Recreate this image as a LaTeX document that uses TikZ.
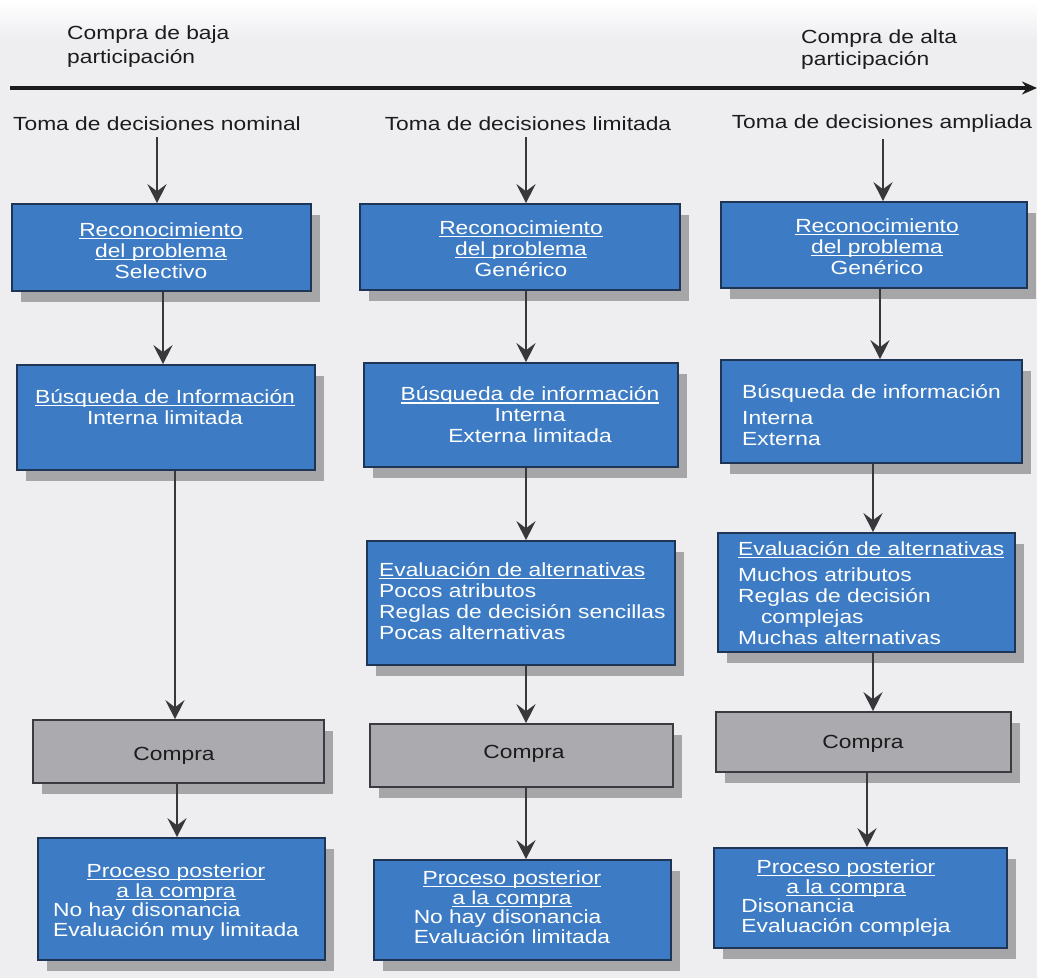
\documentclass[tikz,border=0pt]{standalone}
\usepackage{fontspec}
\setmainfont{Liberation Sans}[FakeStretch=1.2]
\usetikzlibrary{arrows.meta,shadows}
\definecolor{boxblue}{HTML}{3D7CC4}
\definecolor{boxedge}{HTML}{1E3556}
\definecolor{boxgray}{HTML}{AAAAAF}
\definecolor{grayedge}{HTML}{3A3A40}
\definecolor{bg}{HTML}{EEEEF1}
\definecolor{ink}{HTML}{1C1C1C}
\definecolor{arrowc}{HTML}{38383C}
\newcommand\ulx[1]{\setbox0\hbox{#1}\rlap{\rule[-2.6pt]{\wd0}{1.1pt}}\box0}
\newcommand\ctitle[1]{\multicolumn{1}{@{}c@{}}{\ulx{#1}}}
\begin{document}
\begin{tikzpicture}[x=1pt,y=-1pt,
  every node/.style={font=\fontsize{19}{21}\selectfont},
  shadowed/.style={drop shadow={shadow xshift=9pt, shadow yshift=-11pt, opacity=0.3, fill=black}},
  bluebox/.style={shadowed, draw=boxedge, line width=1.6pt, fill=boxblue, inner sep=0pt},
  graybox/.style={shadowed, draw=grayedge, line width=1.6pt, fill=boxgray, inner sep=0pt},
  wtxt/.style={text=white, align=center, inner sep=0pt},
  dtxt/.style={text=ink, align=center, inner sep=0pt},
  arr/.style={draw=arrowc, line width=2.6pt, -{Stealth[length=19pt, width=19pt, inset=7pt]}},
]
\useasboundingbox (0,0) rectangle (1037,978);
\fill[bg] (0,0) rectangle (1037,978);
\shade[top color=white, bottom color=bg] (0,0) rectangle (1037,40);

% axis
\node[dtxt, align=left, anchor=west, font=\fontsize{19}{24}\selectfont] (low) at (67,47) {Compra de baja\\participación};
\node[dtxt, align=left, anchor=west, font=\fontsize{19}{22}\selectfont] (high) at (801,50) {Compra de alta\\participación};
\coordinate (axL) at (10,88);
\coordinate (axR) at (1037,88);
\draw[draw=ink, line width=4.5pt, -{Stealth[length=15pt, width=13pt]}] (axL) -- (axR);

\node[dtxt] (t1) at (157,124) {Toma de decisiones nominal};
\node[dtxt] (t2) at (528,124) {Toma de decisiones limitada};
\node[dtxt] (t3) at (882,124) {Toma de decisiones ampliada};

% boxes
\node[bluebox, minimum width=299pt, minimum height=87pt] (r1) at (161.5,247.5) {};
\node[bluebox, minimum width=320pt, minimum height=86pt] (r2) at (520,247) {};
\node[bluebox, minimum width=306pt, minimum height=86pt] (r3) at (874,245) {};
\node[bluebox, minimum width=298pt, minimum height=105pt] (b1) at (166,417.5) {};
\node[bluebox, minimum width=314pt, minimum height=104pt] (b2) at (521,415) {};
\node[bluebox, minimum width=301pt, minimum height=103pt] (b3) at (871.5,411.5) {};
\node[bluebox, minimum width=308pt, minimum height=124pt] (e2) at (521,603) {};
\node[bluebox, minimum width=297pt, minimum height=119pt] (e3) at (866.5,592.5) {};
\node[graybox, minimum width=291pt, minimum height=63pt] (c1) at (178.5,751.5) {};
\node[graybox, minimum width=303pt, minimum height=63pt] (c2) at (521.5,755.5) {};
\node[graybox, minimum width=295pt, minimum height=60pt] (c3) at (863.5,742) {};
\node[bluebox, minimum width=287pt, minimum height=122pt] (p1) at (181.5,899) {};
\node[bluebox, minimum width=297pt, minimum height=100pt] (p2) at (522.5,910) {};
\node[bluebox, minimum width=293pt, minimum height=100pt] (p3) at (860.5,898) {};

% texts
\node[wtxt] (r1t) at (161,251) {\ulx{Reconocimiento}\\\ulx{del problema}\\Selectivo};
\node[wtxt] (r2t) at (521,249) {\ulx{Reconocimiento}\\\ulx{del problema}\\Genérico};
\node[wtxt] (r3t) at (877,247) {\ulx{Reconocimiento}\\\ulx{del problema}\\Genérico};
\node[wtxt] (b1t) at (165,407) {\ulx{Búsqueda de Información}\\Interna limitada};
\node[wtxt] (b2t) at (530,415) {\ulx{Búsqueda de información}\\Interna\\Externa limitada};
\node[wtxt, align=left, anchor=west] (b3t) at (742,415) {Búsqueda de información\\[5pt]Interna\\Externa};
\node[wtxt, align=left, anchor=west] (e2t) at (379,601) {\ulx{Evaluación de alternativas}\\Pocos atributos\\Reglas de decisión sencillas\\Pocas alternativas};
\node[wtxt, align=left, anchor=west] (e3t) at (738,593) {\ulx{Evaluación de alternativas}\\[5pt]Muchos atributos\\Reglas de decisión\\\hspace*{1.2em}complejas\\Muchas alternativas};
\node[dtxt] (c1t) at (174,756) {Compra};
\node[dtxt] (c2t) at (524,754) {Compra};
\node[dtxt] (c3t) at (863,744) {Compra};
\node[wtxt] (p1t) at (176,903) {\def\arraystretch{0.93}\begin{tabular}{@{}l@{}}\ctitle{Proceso posterior}\\\ctitle{a la compra}\\No hay disonancia\\Evaluación muy limitada\end{tabular}};
\node[wtxt] (p2t) at (512,910) {\def\arraystretch{0.93}\begin{tabular}{@{}l@{}}\ctitle{Proceso posterior}\\\ctitle{a la compra}\\No hay disonancia\\Evaluación limitada\end{tabular}};
\node[wtxt] (p3t) at (846,899) {\def\arraystretch{0.93}\begin{tabular}{@{}l@{}}\ctitle{Proceso posterior}\\\ctitle{a la compra}\\Disonancia\\Evaluación compleja\end{tabular}};

% arrow columns
\coordinate (k1a) at (157,0);
\coordinate (k1b) at (163,0);
\coordinate (k1c) at (175,0);
\coordinate (k1d) at (177,0);
\coordinate (k2) at (526,0);
\coordinate (k3a) at (883,0);
\coordinate (k3b) at (880,0);
\coordinate (k3c) at (873,0);
\coordinate (k3d) at (867,0);

\draw[arr, shorten <=6pt] (t1.south -| k1a) -- (r1.north -| k1a);
\draw[arr] (r1.south -| k1b) -- (b1.north -| k1b);
\draw[arr] (b1.south -| k1c) -- (c1.north -| k1c);
\draw[arr] (c1.south -| k1d) -- (p1.north -| k1d);

\draw[arr, shorten <=6pt] (t2.south -| k2) -- (r2.north -| k2);
\draw[arr] (r2.south -| k2) -- (b2.north -| k2);
\draw[arr] (b2.south -| k2) -- (e2.north -| k2);
\draw[arr] (e2.south -| k2) -- (c2.north -| k2);
\draw[arr] (c2.south -| k2) -- (p2.north -| k2);

\draw[arr, shorten <=6pt] (t3.south -| k3a) -- (r3.north -| k3a);
\draw[arr] (r3.south -| k3b) -- (b3.north -| k3b);
\draw[arr] (b3.south -| k3c) -- (e3.north -| k3c);
\draw[arr] (e3.south -| k3c) -- (c3.north -| k3c);
\draw[arr] (c3.south -| k3d) -- (p3.north -| k3d);
\end{tikzpicture}
\end{document}
